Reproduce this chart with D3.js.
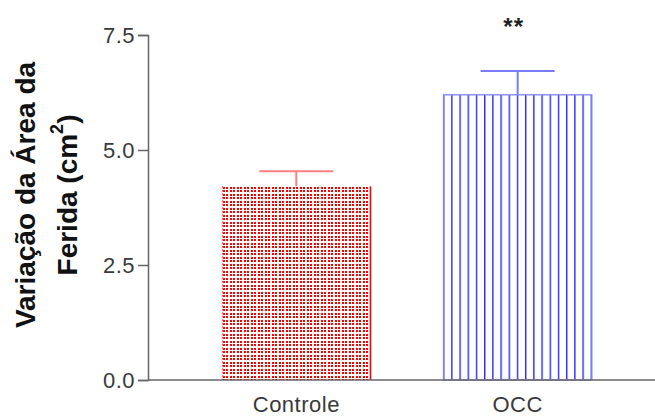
<!DOCTYPE html>
<html>
<head>
<meta charset="utf-8">
<script src="https://cdn.jsdelivr.net/npm/d3@7"></script>
<style>
  body { margin: 0; background: #fff; }
  svg { font-family: "Liberation Sans", Arial, sans-serif; }
</style>
</head>
<body>
<div id="chart"></div>
<script>
const groups = ["Controle", "OCC"];
const means = [4.21, 6.2];
const errors = [0.33, 0.52];
const signif = ["", "**"];
const yTicks = [0, 2.5, 5.0, 7.5];

const width = 655, height = 418;
const margin = { top: 35, right: -11, bottom: 38, left: 148 };

const svg = d3.select("#chart").append("svg")
  .attr("width", width)
  .attr("height", height);

const defs = svg.append("defs");

// red dotted grid fill (pairs of small squares)
const pRed = defs.append("pattern")
  .attr("id", "redgrid")
  .attr("patternUnits", "userSpaceOnUse")
  .attr("x", 222).attr("y", 186)
  .attr("width", 7).attr("height", 7);
[[1, 1], [4, 1], [1, 4], [4, 4]].forEach(([px, py]) => {
  pRed.append("rect").attr("x", px).attr("y", py).attr("width", 2).attr("height", 2).attr("fill", "#ff0000");
});

// blue vertical lines fill
const pBlue = defs.append("pattern")
  .attr("id", "bluelines")
  .attr("patternUnits", "userSpaceOnUse")
  .attr("x", 443)
  .attr("width", 8.2).attr("height", 10);
pBlue.append("rect").attr("x", 0).attr("y", 0).attr("width", 1.4).attr("height", 10).attr("fill", "#2a2aff");

const x = d3.scaleBand()
  .domain(groups)
  .range([margin.left, width - margin.right])
  .paddingInner(0.33)
  .paddingOuter(0.335);

const y = d3.scaleLinear()
  .domain([0, 7.5])
  .range([height - margin.bottom, margin.top]);

const fills = ["url(#redgrid)", "url(#bluelines)"];
const edge = ["#ff0000", "#8080ff"];
const errCol = ["#ff8080", "#7b7bff"];

const bars = svg.append("g").selectAll("g")
  .data(groups)
  .join("g");

bars.append("rect")
  .attr("x", d => x(d))
  .attr("y", (d, i) => y(means[i]))
  .attr("width", x.bandwidth())
  .attr("height", (d, i) => y(0) - y(means[i]))
  .attr("fill", (d, i) => fills[i])
  .attr("stroke", (d, i) => i === 1 ? edge[i] : "none")
  .attr("stroke-width", 1.3);

// edges of the red bar: dotted left, solid right
bars.filter((d, i) => i === 0).append("line")
  .attr("x1", d => x(d) + 0.5)
  .attr("x2", d => x(d) + 0.5)
  .attr("y1", y(means[0]))
  .attr("y2", y(0))
  .attr("stroke", "#ff6060")
  .attr("stroke-width", 1.2)
  .attr("stroke-dasharray", "2,1.5");

bars.filter((d, i) => i === 0).append("line")
  .attr("x1", d => x(d) + x.bandwidth())
  .attr("x2", d => x(d) + x.bandwidth())
  .attr("y1", y(means[0]))
  .attr("y2", y(0))
  .attr("stroke", edge[0])
  .attr("stroke-width", 1.6);

// error bars (upper only)
bars.append("line")
  .attr("x1", d => x(d) + x.bandwidth() / 2)
  .attr("x2", d => x(d) + x.bandwidth() / 2)
  .attr("y1", (d, i) => y(means[i]))
  .attr("y2", (d, i) => y(means[i] + errors[i]))
  .attr("stroke", (d, i) => errCol[i])
  .attr("stroke-width", 2);

bars.append("line")
  .attr("x1", d => x(d) + x.bandwidth() / 2 - 37)
  .attr("x2", d => x(d) + x.bandwidth() / 2 + 37)
  .attr("y1", (d, i) => y(means[i] + errors[i]))
  .attr("y2", (d, i) => y(means[i] + errors[i]))
  .attr("stroke", (d, i) => errCol[i])
  .attr("stroke-width", 2);

bars.append("text")
  .attr("x", d => x(d) + x.bandwidth() / 2 - 4)
  .attr("y", 35)
  .attr("text-anchor", "middle")
  .attr("font-size", 24)
  .attr("font-weight", "bold")
  .attr("letter-spacing", 1)
  .attr("fill", "#222")
  .text((d, i) => signif[i]);

// axes
const yAxis = svg.append("g")
  .attr("transform", `translate(${margin.left},0)`)
  .call(d3.axisLeft(y).tickValues(yTicks).tickFormat(d3.format(".1f")).tickSizeOuter(0).tickSize(10).tickPadding(3));

const xAxis = svg.append("g")
  .attr("transform", `translate(0,${y(0)})`)
  .call(d3.axisBottom(x).tickSize(0).tickSizeOuter(0).tickPadding(16));

[yAxis, xAxis].forEach(a => {
  a.select(".domain").attr("stroke", "#666").attr("stroke-width", 1.5);
  a.selectAll(".tick line").attr("stroke", "#666").attr("stroke-width", 1.5);
  a.selectAll("text").attr("font-size", 22).attr("fill", "#3a3a3a")
    .attr("font-family", "'Liberation Sans', Arial, sans-serif")
    .attr("letter-spacing", 0.5);
});
xAxis.select(".domain").attr("d", `M${margin.left},0H${width}`);

// y title
const title = svg.append("text")
  .attr("transform", `translate(0,195) rotate(-90)`)
  .attr("text-anchor", "middle")
  .attr("font-size", 28)
  .attr("font-weight", "bold")
  .attr("fill", "#111");
title.append("tspan").attr("x", 0).attr("y", 35).text("Variação da Área da");
const t2 = title.append("tspan").attr("x", 0).attr("y", 77).text("Ferida (cm");
t2.append("tspan").attr("dy", -14).attr("font-size", 18).text("2");
t2.append("tspan").attr("dy", 14).text(")");
</script>
</body>
</html>
